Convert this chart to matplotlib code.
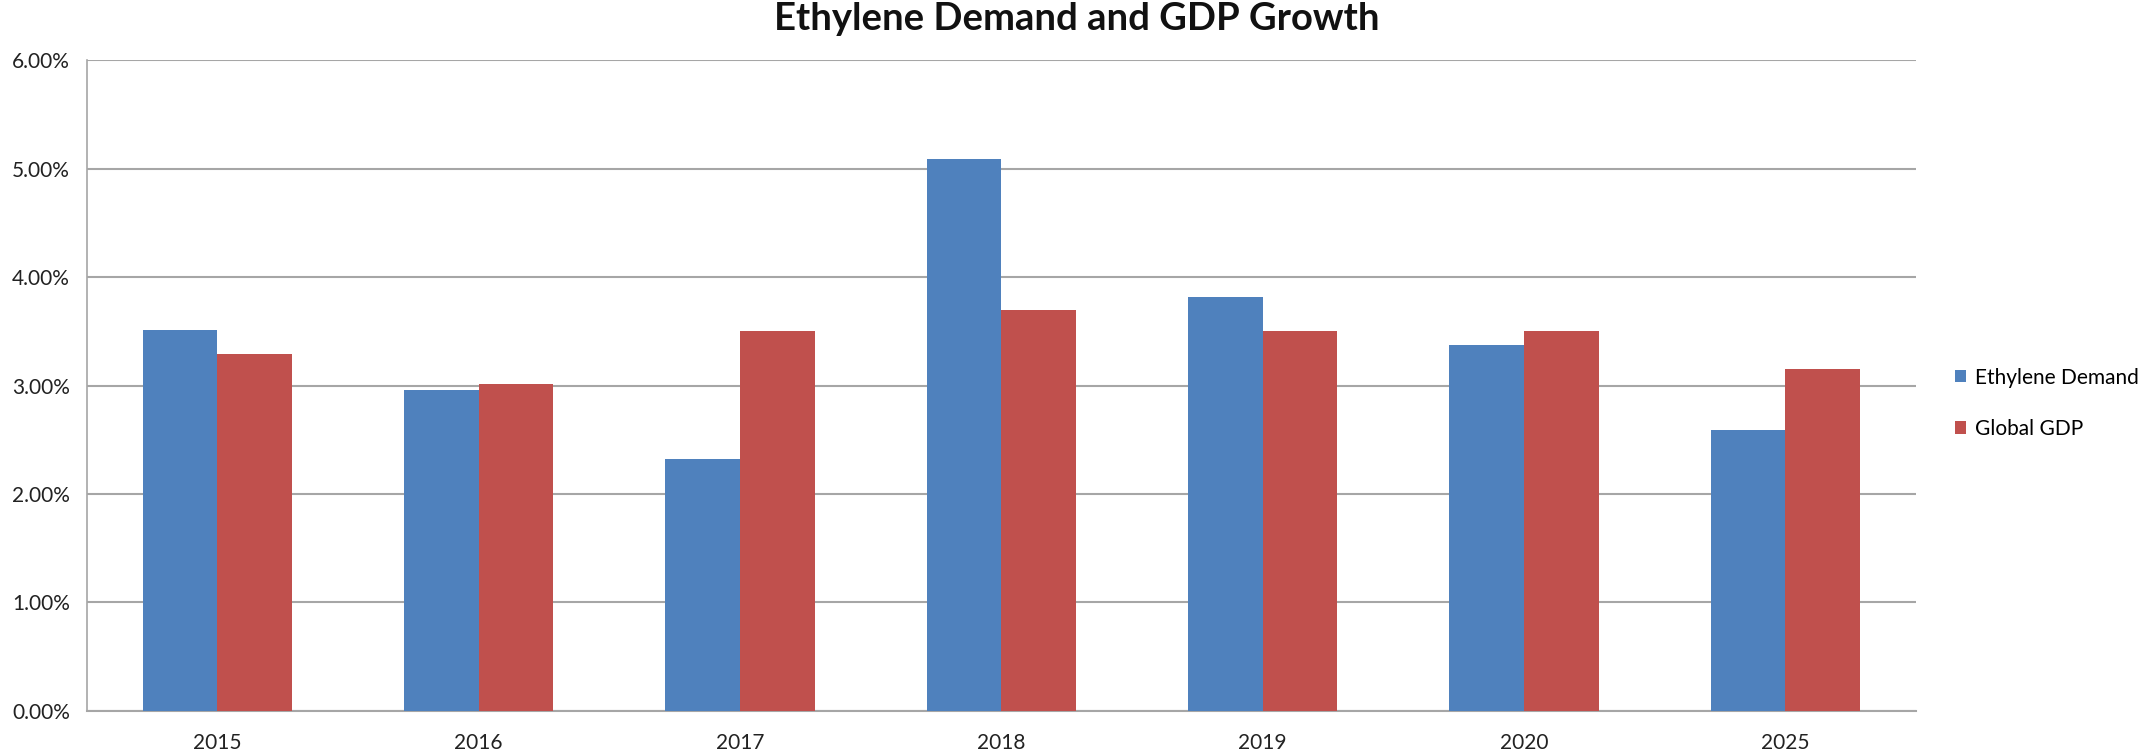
import numpy as np
import matplotlib
matplotlib.use("Agg")
import matplotlib.pyplot as plt
from matplotlib.ticker import FuncFormatter

YEARS = ["2015", "2016", "2017", "2018", "2019", "2020", "2025"]
ETHYLENE = [3.51, 2.96, 2.32, 5.09, 3.82, 3.37, 2.59]
GDP      = [3.29, 3.01, 3.50, 3.70, 3.50, 3.50, 3.15]

COLOR_ETH = "#4F81BD"
COLOR_GDP = "#C0504D"
GRID_COLOR = "#A6A6A6"

plt.rcParams["font.family"] = ["Lato", "DejaVu Sans"]

fig = plt.figure(figsize=(21.53, 7.55), dpi=100)
ax = fig.add_axes([0.0402, 0.0583, 0.8498, 0.8622])

x = np.arange(len(YEARS))
w = 1 / 3.5
ax.bar(x - w / 2, ETHYLENE, width=w, color=COLOR_ETH, label="Ethylene Demand", zorder=3)
ax.bar(x + w / 2, GDP, width=w, color=COLOR_GDP, label="Global GDP", zorder=3)

ax.set_xlim(-0.5, len(YEARS) - 0.5)
ax.set_ylim(0, 6)
ax.set_yticks(np.arange(0, 7, 1))
ax.yaxis.set_major_formatter(FuncFormatter(lambda v, _: f"{v:.2f}%"))
ax.set_xticks(x)
ax.set_xticklabels(YEARS)
ax.tick_params(axis="both", length=0, labelsize=15, colors="#222222")
ax.tick_params(axis="y", pad=12)
ax.tick_params(axis="x", pad=16)

ax.grid(axis="y", color=GRID_COLOR, linewidth=1.5, zorder=0)
for s in ["top", "right"]:
    ax.spines[s].set_visible(False)
ax.spines["left"].set_color(GRID_COLOR)
ax.spines["bottom"].set_color(GRID_COLOR)
ax.spines["left"].set_linewidth(1.2)
ax.spines["bottom"].set_linewidth(1.5)

fig.text(0.5, 0.975, "Ethylene Demand and GDP Growth", ha="center", va="center",
         fontsize=27.5, fontweight="bold", color="#111111")

fig.legend(loc="center left", bbox_to_anchor=(0.908, 0.466), frameon=False,
           borderpad=0, borderaxespad=0,
           fontsize=15, handlelength=0.55, handleheight=0.55, handletextpad=0.4,
           labelspacing=1.5)

plt.savefig("out.png", dpi=100)
